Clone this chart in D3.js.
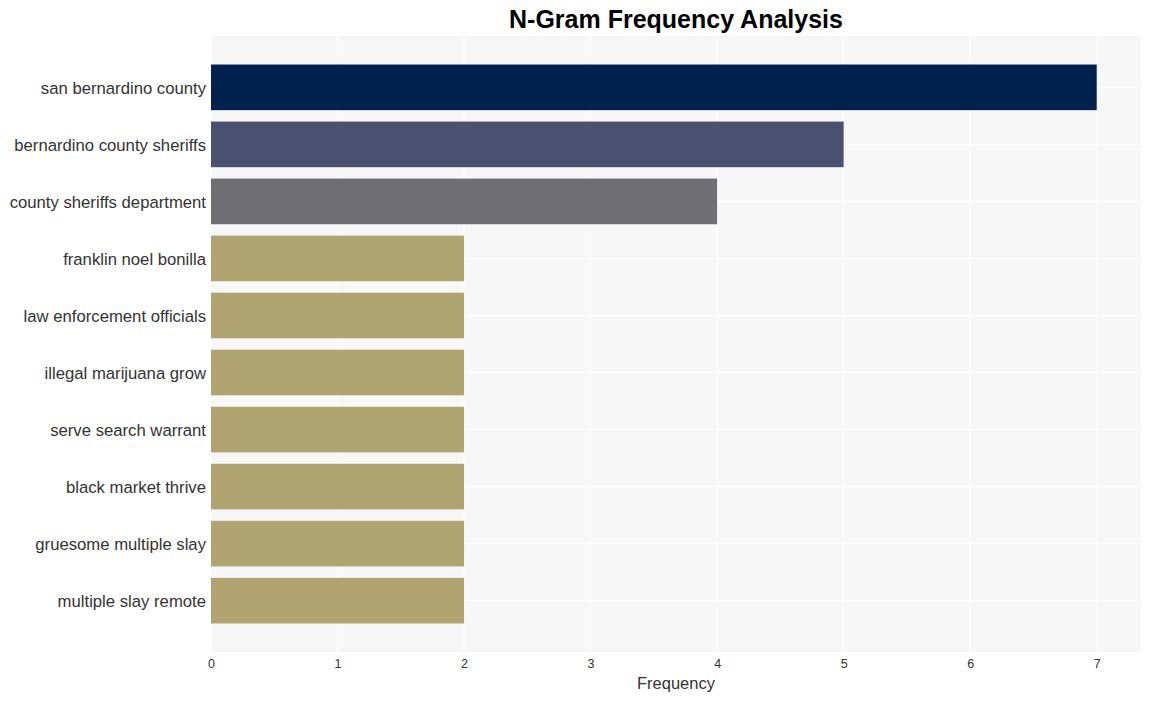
<!DOCTYPE html>
<html><head><meta charset="utf-8">
<script src="https://cdn.jsdelivr.net/npm/d3@7"></script>
<style>body{margin:0;background:#fff;font-family:"Liberation Sans",Arial,sans-serif;}</style>
</head><body><svg id="c" width="1150" height="701"></svg>
<script>
const categories = ["san bernardino county","bernardino county sheriffs","county sheriffs department","franklin noel bonilla","law enforcement officials","illegal marijuana grow","serve search warrant","black market thrive","gruesome multiple slay","multiple slay remote"];
const values = [7,5,4,2,2,2,2,2,2,2];
const colors = ["#00214e","#4a5270","#6e6e73","#b0a570","#b0a570","#b0a570","#b0a570","#b0a570","#b0a570","#b0a570"];
const xTicks = [0,1,2,3,4,5,6,7];

const svg = d3.select("#c");
const m = {l:211, r:1141, t:36, b:652};
const x = d3.scaleLinear().domain([0, 7.35]).range([m.l, m.r]);
const y = d3.scaleBand().domain(categories).range([m.t, m.b]).paddingInner(0.2).paddingOuter(0.5);

svg.append("rect").attr("x",m.l).attr("y",m.t).attr("width",m.r-m.l).attr("height",m.b-m.t).attr("fill","#f7f7f7");
svg.append("g").selectAll("line").data(xTicks).join("line")
  .attr("x1",d=>x(d)).attr("x2",d=>x(d)).attr("y1",m.t).attr("y2",m.b)
  .attr("stroke","#fff").attr("stroke-width",1);
svg.append("g").selectAll("line").data(categories).join("line")
  .attr("x1",m.l).attr("x2",m.r).attr("y1",d=>y(d)+y.bandwidth()/2).attr("y2",d=>y(d)+y.bandwidth()/2)
  .attr("stroke","#fff").attr("stroke-width",1);

svg.append("g").selectAll("rect").data(categories).join("rect")
  .attr("x",x(0)).attr("y",d=>y(d)).attr("width",(d,i)=>x(values[i])-x(0)).attr("height",y.bandwidth())
  .attr("fill",(d,i)=>colors[i]);

const xa = svg.append("g").attr("transform",`translate(0,${m.b})`)
  .call(d3.axisBottom(x).tickValues(xTicks).tickFormat(d3.format("d")).tickSize(0).tickPadding(7));
xa.select(".domain").remove();
xa.selectAll("text").attr("font-size",12.5).attr("fill","#333").attr("font-family","Liberation Sans, Arial, sans-serif");

const ya = svg.append("g").attr("transform",`translate(${m.l},0)`)
  .call(d3.axisLeft(y).tickSize(0).tickPadding(5));
ya.select(".domain").remove();
ya.selectAll("text").attr("font-size",16.7).attr("fill","#333").attr("dy","0.4em").attr("font-family","Liberation Sans, Arial, sans-serif");

svg.append("text").attr("x",(m.l+m.r)/2).attr("y",689).attr("text-anchor","middle")
  .attr("font-size",16.5).attr("fill","#333").text("Frequency");
svg.append("text").attr("x",(m.l+m.r)/2).attr("y",28).attr("text-anchor","middle")
  .attr("font-size",25).attr("font-weight","bold").attr("fill","#000").text("N-Gram Frequency Analysis");
</script></body></html>
